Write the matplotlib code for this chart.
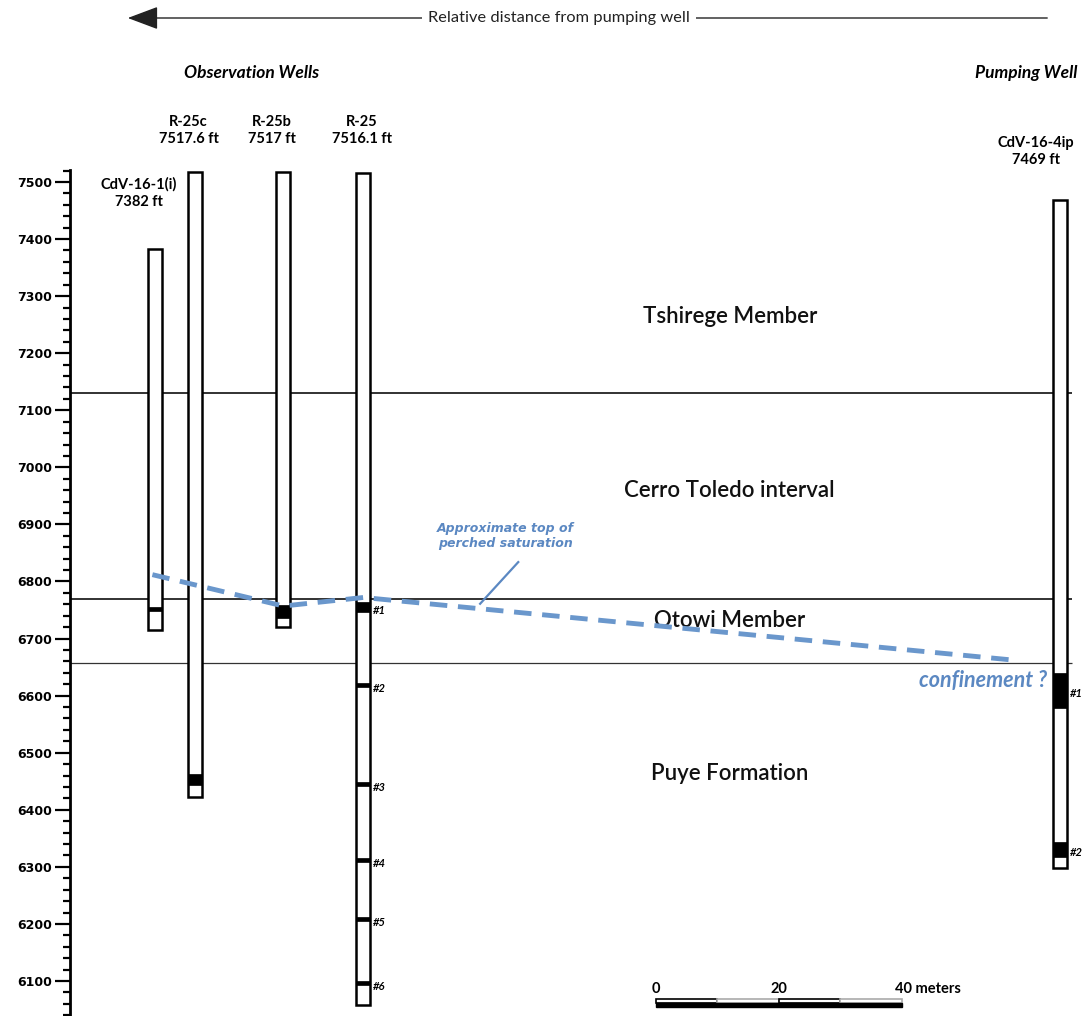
import matplotlib
matplotlib.use("Agg")
import matplotlib.pyplot as plt
from matplotlib.patches import Rectangle, FancyArrowPatch
from matplotlib.ticker import MultipleLocator

plt.rcParams['font.family'] = ['Lato', 'DejaVu Sans']

# Wells (distance in meters from the pumping well, elevations in ft)
well_names = ["CdV-16-1(i)", "R-25c", "R-25b", "R-25", "CdV-16-4ip"]
well_elev_label = ["7382 ft", "7517.6 ft", "7517 ft", "7516.1 ft", "7469 ft"]
well_dist = [147.2, 140.7, 126.3, 113.3, 0.0]
well_top = [7382, 7517.6, 7517, 7516.1, 7469]
well_bottom = [6715, 6422, 6720, 6058, 6298]
# screened intervals (top, bottom) for each well
well_screens = [
    [(6756, 6748)],
    [(6462, 6443)],
    [(6759, 6736)],
    [(6764, 6747), (6622, 6615), (6448, 6441), (6315, 6308), (6212, 6205), (6100, 6093)],
    [(6640, 6578), (6344, 6317)],
]
screen_labelled = [False, False, False, True, True]

# geologic contacts (ft)
contacts = [7130, 6770, 6657]
unit_names = ["Tshirege Member", "Cerro Toledo interval", "Otowi Member", "Puye Formation"]
unit_label_elev = [7265, 6959, 6731, 6463]

# approximate top of perched saturation
sat_dist = [147.6, 126.3, 113.3, 7.3]
sat_elev = [6812, 6757, 6772, 6662]

blue_line = '#6a97cc'
blue_text = '#5b88c2'

fig = plt.figure(figsize=(10.85, 10.16), dpi=100)
ax = fig.add_axes([70 / 1085, 0, 1015 / 1085, (1016 - 170) / 1016])
ax.set_xlim(161.0, -4.07)
ax.set_ylim(6038.7, 7521)

for s in ['top', 'right', 'bottom']:
    ax.spines[s].set_visible(False)
ax.spines['left'].set_linewidth(2)
ax.set_xticks([])
ax.yaxis.set_major_locator(MultipleLocator(100))
ax.yaxis.set_minor_locator(MultipleLocator(20))
ax.tick_params(axis='y', which='major', length=11, width=1.6, pad=2)
ax.tick_params(axis='y', which='minor', length=5, width=1.6)
for lab in ax.get_yticklabels():
    lab.set_fontweight('bold')
    lab.set_family('DejaVu Sans')
    lab.set_fontsize(9)

# contacts
ax.hlines(contacts[:2], 161.0, -1.95, color='#222222', lw=1.3, zorder=1)
ax.hlines(contacts[2], 161.0, -1.95, color='#333333', lw=0.9, zorder=1)

# wells
w = 2.3
for i in range(len(well_names)):
    ax.bar(well_dist[i], well_top[i] - well_bottom[i], bottom=well_bottom[i], width=w,
           color='white', edgecolor='black', lw=1.8, zorder=3)
    for k, (t, b) in enumerate(well_screens[i]):
        ax.bar(well_dist[i], t - b, bottom=b, width=w, color='black',
               edgecolor='black', lw=0.5, zorder=4)
        if screen_labelled[i]:
            ax.text(well_dist[i] - 1.6, (t + b) / 2 - 6, "#%d" % (k + 1), ha='left', va='center',
                    fontsize=8, fontweight='bold', fontstyle='italic', zorder=6)

# well labels
label_dx = [2.6, 1.0, 1.8, 0.2, 3.9]
label_y = [7481, 7590, 7590, 7590, 7554]
for i in range(len(well_names)):
    ax.text(well_dist[i] + label_dx[i], label_y[i], well_names[i] + "\n" + well_elev_label[i],
            ha='center', va='center', fontsize=10.5, fontweight='bold',
            linespacing=1.3, clip_on=False)

# unit names
for name, el in zip(unit_names, unit_label_elev):
    ax.text(53.7, el, name, ha='center', va='center', fontsize=16, fontweight=600,
            color='#111111')

# saturation line + annotation
ax.plot(sat_dist, sat_elev, color=blue_line, lw=3.5, dashes=(3.6, 2.2), zorder=5)
ax.plot([88.1, 94.3], [6834, 6761], color=blue_text, lw=1.6, zorder=5)
ax.text(90.2, 6880, "Approximate top of\nperched saturation", ha='center', va='center',
        fontsize=9, fontstyle='italic', fontweight='bold', color=blue_text,
        family='DejaVu Sans', linespacing=1.2)
ax.text(2.1, 6626, "confinement ?", ha='right', va='center', fontsize=15.5,
        fontstyle='italic', fontweight='bold', color=blue_text)

# scale bar (meters)
sb0 = 65.7
sb_top, sb_mid, sb_bot = 6068.5, 6061.5, 6054.5
for i in range(4):
    x0 = sb0 - 10 * (i + 1)
    ax.add_patch(Rectangle((x0, sb_mid), 10, sb_top - sb_mid, facecolor='white',
                           edgecolor='black' if i % 2 == 0 else '#aaaaaa', lw=1.2, zorder=6))
ax.add_patch(Rectangle((sb0 - 40, sb_bot), 40, sb_mid - sb_bot, facecolor='black',
                       edgecolor='black', lw=1, zorder=6))
ax.text(sb0, 6086, "0", ha='center', va='center', fontsize=10.5, fontweight='bold')
ax.text(sb0 - 20, 6086, "20", ha='center', va='center', fontsize=10.5, fontweight='bold')
ax.text(sb0 - 40 + 1.1, 6086, "40 meters", ha='left', va='center', fontsize=10.5,
        fontweight='bold')

# header texts
fig.text(252 / 1085, 1 - 73 / 1016, "Observation Wells", ha='center', va='center',
         fontsize=12.5, fontweight='bold', fontstyle='italic')
fig.text(1026 / 1085, 1 - 73 / 1016, "Pumping Well", ha='center', va='center',
         fontsize=12.5, fontweight='bold', fontstyle='italic')

arr = FancyArrowPatch((1050 / 1085, 1 - 18 / 1016), (125 / 1085, 1 - 18 / 1016),
                      transform=fig.transFigure, arrowstyle='-|>,head_length=1.6,head_width=0.6',
                      mutation_scale=12, color='#222222', lw=1)
fig.add_artist(arr)
fig.text(559 / 1085, 1 - 18 / 1016, "Relative distance from pumping well", ha='center', va='center',
         fontsize=11.8, color='#222222',
         bbox=dict(facecolor='white', edgecolor='none', pad=4))

fig.savefig("out.png", dpi=100)
